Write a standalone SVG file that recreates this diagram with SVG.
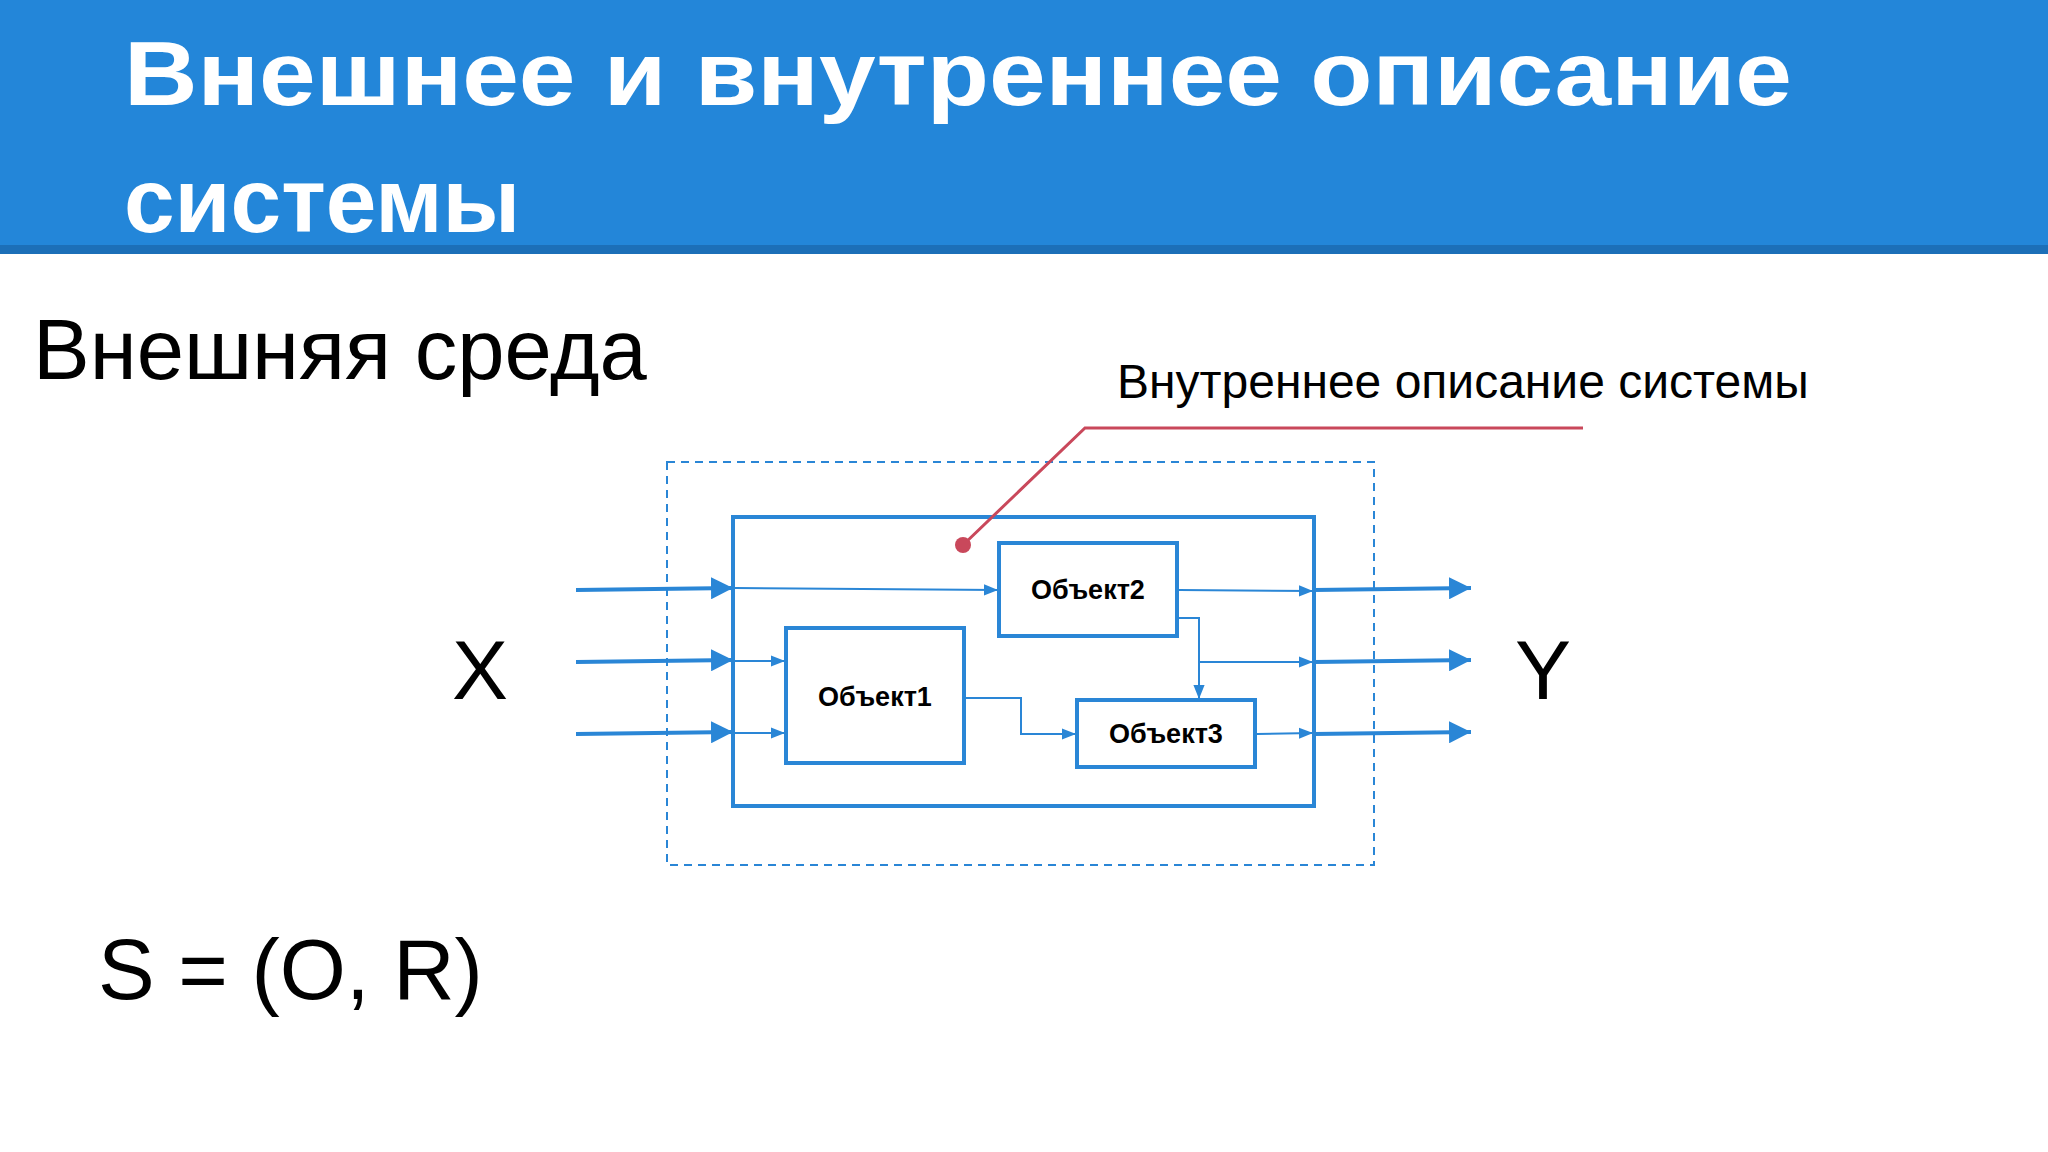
<svg xmlns="http://www.w3.org/2000/svg" width="2048" height="1152" viewBox="0 0 2048 1152">
<defs>
<style>
.t{font-family:"Liberation Sans",Arial,sans-serif;fill:#000}
.b{stroke:#2a86d6;fill:none}
.n{stroke:#2a86d6;stroke-width:4;fill:#fff}
.nl{font-family:"Liberation Sans",Arial,sans-serif;font-weight:bold;font-size:27px;text-anchor:middle}
</style>
<marker id="big" viewBox="0 0 10 10" refX="10" refY="5" markerWidth="7" markerHeight="7" markerUnits="userSpaceOnUse" orient="auto"><path d="M0,0L10,5L0,10z" fill="#2a86d6"/></marker>
<marker id="bh" viewBox="0 0 10 10" refX="10" refY="5" markerWidth="5.5" markerHeight="5.5" orient="auto"><path d="M0,0L10,5L0,10z" fill="#2a86d6"/></marker>
<marker id="sh" viewBox="0 0 10 10" refX="10" refY="5" markerWidth="7" markerHeight="7" orient="auto"><path d="M0,1L10,5L0,9z" fill="#2a86d6"/></marker>
</defs>
<rect width="2048" height="1152" fill="#fff"/>
<rect width="2048" height="248" fill="#2386d9"/>
<rect y="245" width="2048" height="9" fill="#1c6fb8"/>
<text x="124" y="105" font-family="Liberation Sans,Arial,sans-serif" font-weight="bold" font-size="91" fill="#fff" textLength="1668" lengthAdjust="spacingAndGlyphs">Внешнее и внутреннее описание</text>
<text x="124" y="232" font-family="Liberation Sans,Arial,sans-serif" font-weight="bold" font-size="91" fill="#fff">системы</text>
<text class="t" x="33" y="379" font-size="85">Внешняя среда</text>
<text class="t" x="1117" y="398" font-size="48">Внутреннее описание системы</text>
<text class="t" x="452" y="699" font-size="84">X</text>
<text class="t" x="1515" y="699" font-size="84">Y</text>
<text class="t" x="98" y="999" font-size="85">S = (O, R)</text>
<g id="boundary"><rect x="667" y="462" width="707" height="403" class="b" stroke-width="2" stroke-dasharray="8,6"/></g>
<g id="system"><rect x="733" y="517" width="581" height="289" class="b" stroke-width="4"/></g>
<g id="connectors" class="b">
<g stroke-width="4">
<line x1="576" y1="590" x2="733" y2="588" marker-end="url(#bh)"/>
<line x1="576" y1="662" x2="733" y2="660" marker-end="url(#bh)"/>
<line x1="576" y1="734" x2="733" y2="732" marker-end="url(#bh)"/>
<line x1="1314" y1="590" x2="1471" y2="588" marker-end="url(#bh)"/>
<line x1="1314" y1="662" x2="1471" y2="660" marker-end="url(#bh)"/>
<line x1="1314" y1="734" x2="1471" y2="732" marker-end="url(#bh)"/>
</g>
<g stroke-width="2">
<line x1="735" y1="588" x2="998" y2="590" marker-end="url(#sh)"/>
<line x1="735" y1="661" x2="785" y2="661" marker-end="url(#sh)"/>
<line x1="735" y1="733" x2="785" y2="733" marker-end="url(#sh)"/>
<line x1="1179" y1="590" x2="1313" y2="591" marker-end="url(#sh)"/>
<polyline points="1179,618 1199,618 1199,699" marker-end="url(#sh)"/>
<line x1="1199" y1="662" x2="1313" y2="662" marker-end="url(#sh)"/>
<polyline points="966,698 1021,698 1021,734 1076,734" marker-end="url(#sh)"/>
<line x1="1257" y1="734" x2="1313" y2="733" marker-end="url(#sh)"/>
</g>
<polyline points="1583,428 1085,428 963,545" stroke="#c9485b" stroke-width="3" fill="none"/>
<circle cx="963" cy="545" r="8" fill="#c9485b" stroke="none"/>
</g>
<g id="obj1"><rect x="786" y="628" width="178" height="135" class="n"/><text class="nl" x="875" y="706">Объект1</text></g>
<g id="obj2"><rect x="999" y="543" width="178" height="93" class="n"/><text class="nl" x="1088" y="599">Объект2</text></g>
<g id="obj3"><rect x="1077" y="700" width="178" height="67" class="n"/><text class="nl" x="1166" y="743">Объект3</text></g>
</svg>
